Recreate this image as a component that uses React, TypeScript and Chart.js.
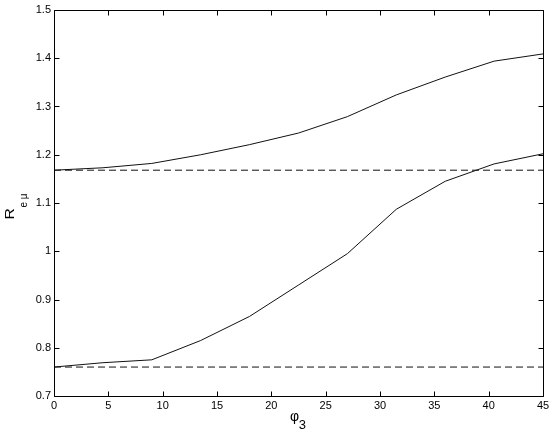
import React, { useEffect, useRef } from "react";
import { Chart, registerables } from "chart.js";

Chart.register(...registerables);

// ---- data ----
const phi3 = [0, 4.5, 9, 13.5, 18, 22.5, 27, 31.5, 36, 40.5, 45];
const upperCurve = [1.168, 1.173, 1.182, 1.2, 1.221, 1.245, 1.279, 1.324, 1.361, 1.394, 1.409];
const lowerCurve = [0.76, 0.769, 0.775, 0.815, 0.865, 0.93, 0.995, 1.087, 1.145, 1.181, 1.202];
const refX = [0, 45];
const upperRef = [1.168, 1.168];
const lowerRef = [0.76, 0.76];

const xTicks = [0, 5, 10, 15, 20, 25, 30, 35, 40, 45];
const xTickLabels = ["0", "5", "10", "15", "20", "25", "30", "35", "40", "45"];
const yTicks = [0.7, 0.8, 0.9, 1.0, 1.1, 1.2, 1.3, 1.4, 1.5];
const yTickLabels = ["0.7", "0.8", "0.9", "1", "1.1", "1.2", "1.3", "1.4", "1.5"];

const FONT = "'Liberation Sans', Arial, Helvetica, sans-serif";

const toPoints = (xs: number[], ys: number[]) => xs.map((x, i) => ({ x, y: ys[i] }));

const framePlugin = {
  id: "matlabFrame",
  afterDraw(chart: any) {
    const { ctx, chartArea: a, scales } = chart;
    const xs = scales.x;
    const ys = scales.y;
    const L = Math.floor(a.left) + 0.5;
    const R = Math.floor(a.right) + 0.5;
    const T = Math.floor(a.top) + 0.5;
    const B = Math.floor(a.bottom) + 0.5;
    const tl = 5;
    ctx.save();
    ctx.strokeStyle = "#000";
    ctx.lineWidth = 1;
    ctx.beginPath();
    ctx.rect(L, T, R - L, B - T);
    ctx.stroke();
    ctx.beginPath();
    xTicks.forEach((v) => {
      const px = Math.round(xs.getPixelForValue(v)) + 0.5;
      ctx.moveTo(px, B);
      ctx.lineTo(px, B - tl);
      ctx.moveTo(px, T);
      ctx.lineTo(px, T + tl);
    });
    yTicks.forEach((v) => {
      const py = Math.round(ys.getPixelForValue(v)) + 0.5;
      ctx.moveTo(L, py);
      ctx.lineTo(L + tl, py);
      ctx.moveTo(R, py);
      ctx.lineTo(R - tl, py);
    });
    ctx.stroke();

    // axis titles
    ctx.fillStyle = "#000";
    ctx.textAlign = "left";
    ctx.textBaseline = "alphabetic";
    // x title: phi_3
    ctx.font = `14px ${FONT}`;
    ctx.fillText("φ", 290, 421);
    ctx.font = `13px ${FONT}`;
    ctx.fillText("3", 298.8, 429.3);
    // y title: R_{e mu}, rotated
    ctx.save();
    ctx.translate(13.5, 218.5);
    ctx.rotate(-Math.PI / 2);
    ctx.save();
    ctx.scale(1.2, 1);
    ctx.font = `13px ${FONT}`;
    ctx.fillText("R", -0.8, 0);
    ctx.restore();
    ctx.font = `10px ${FONT}`;
    ctx.fillText("e μ", 11, 13);
    ctx.restore();
    ctx.restore();
  },
};

export default function App() {
  const ref = useRef<HTMLCanvasElement | null>(null);

  useEffect(() => {
    if (!ref.current) return;
    const lineStyle = {
      borderColor: "#111",
      borderWidth: 1,
      pointRadius: 0,
      tension: 0,
      fill: false,
    };
    const chart = new Chart(ref.current, {
      type: "line",
      data: {
        datasets: [
          { ...lineStyle, data: toPoints(phi3, upperCurve) },
          { ...lineStyle, data: toPoints(phi3, lowerCurve) },
          { ...lineStyle, borderDash: [7, 4], data: toPoints(refX, upperRef) },
          { ...lineStyle, borderDash: [7, 4], data: toPoints(refX, lowerRef) },
        ],
      },
      options: {
        animation: false,
        responsive: false,
        events: [],
        layout: { padding: { left: 0, top: 10, right: 10, bottom: 0 } },
        plugins: { legend: { display: false }, tooltip: { enabled: false } },
        scales: {
          x: {
            type: "linear",
            min: 0,
            max: 45,
            grid: { display: false, drawTicks: false },
            border: { display: false },
            afterBuildTicks: (s: any) => {
              s.ticks = xTicks.map((v) => ({ value: v }));
            },
            afterFit: (s: any) => {
              s.height = 40;
            },
            ticks: {
              padding: 3,
              color: "#000",
              font: { family: FONT, size: 11 },
              maxRotation: 0,
              autoSkip: false,
              callback: (v: any) => {
                const i = xTicks.indexOf(Number(v));
                return i >= 0 ? xTickLabels[i] : "";
              },
            },
          },
          y: {
            type: "linear",
            min: 0.7,
            max: 1.5,
            grid: { display: false, drawTicks: false },
            border: { display: false },
            afterBuildTicks: (s: any) => {
              s.ticks = yTicks.map((v) => ({ value: v }));
            },
            afterFit: (s: any) => {
              s.width = 54;
            },
            ticks: {
              padding: 3,
              color: "#000",
              font: { family: FONT, size: 11 },
              autoSkip: false,
              callback: (v: any) => {
                const i = yTicks.findIndex((t) => Math.abs(t - Number(v)) < 1e-6);
                return i >= 0 ? yTickLabels[i] : "";
              },
            },
          },
        },
      },
      plugins: [framePlugin],
    });
    return () => chart.destroy();
  }, []);

  return (
    <div style={{ position: "absolute", left: 0, top: 0, width: 553, height: 436, background: "#fff" }}>
      <canvas ref={ref} width={553} height={436} style={{ display: "block" }} />
    </div>
  );
}
